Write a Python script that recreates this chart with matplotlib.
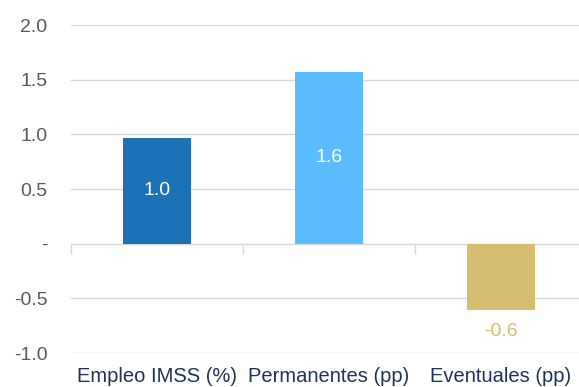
import matplotlib.pyplot as plt
import numpy as np

# data
categories = ['Empleo IMSS (%)', 'Permanentes (pp)', 'Eventuales (pp)']
values = [0.97, 1.57, -0.61]
labels = ['1.0', '1.6', '-0.6']
bar_colors = ['#1C72B6', '#5BBDFF', '#D6BD6F']
yticks = [-1.0, -0.5, 0.0, 0.5, 1.0, 1.5, 2.0]
ytick_labels = ['-1.0', '-0.5', '-', '0.5', '1.0', '1.5', '2.0']

plt.rcParams['font.family'] = ['Liberation Sans', 'DejaVu Sans']

fig = plt.figure(figsize=(5.79, 3.87), dpi=100)
ax = fig.add_axes([71 / 579, 1 - 353 / 387, 516 / 579, 328 / 387])

x = np.arange(len(categories))
bars = ax.bar(x, values, width=0.4, color=bar_colors, zorder=3)

ax.set_xlim(-0.5, len(categories) - 0.5)
ax.set_ylim(-1.0, 2.0)
ax.set_yticks(yticks)
ax.set_yticklabels(ytick_labels)
ax.grid(axis='y', color='#D9D9D9', linewidth=1, zorder=0)
ax.set_axisbelow(True)

for s in ax.spines.values():
    s.set_visible(False)

ax.tick_params(axis='y', length=0, pad=17, labelsize=14, labelcolor='#595959')
ax.set_xticks(x)
ax.set_xticklabels(categories)
ax.tick_params(axis='x', length=0, pad=10, labelsize=14.5, labelcolor='#1F3358')

# zero axis with category boundary ticks
zero_frac = (0 - (-1.0)) / 3.0
sec = ax.secondary_xaxis(zero_frac)
sec.set_xticks(np.arange(len(categories) + 1) - 0.5)
sec.set_xticklabels([])
sec.tick_params(axis='x', direction='out', length=7, color='#D9D9D9', width=1)
sec.spines['bottom'].set_color('#D9D9D9')

for b, v, lab, c in zip(bars, values, labels, bar_colors):
    cx = b.get_x() + b.get_width() / 2
    if v > 0:
        ax.text(cx, v / 2, lab, ha='center', va='center', color='white', fontsize=14)
    else:
        ax.text(cx, v - 0.12, lab, ha='center', va='top', color=c, fontsize=14)

fig.savefig('out.png', dpi=100)
